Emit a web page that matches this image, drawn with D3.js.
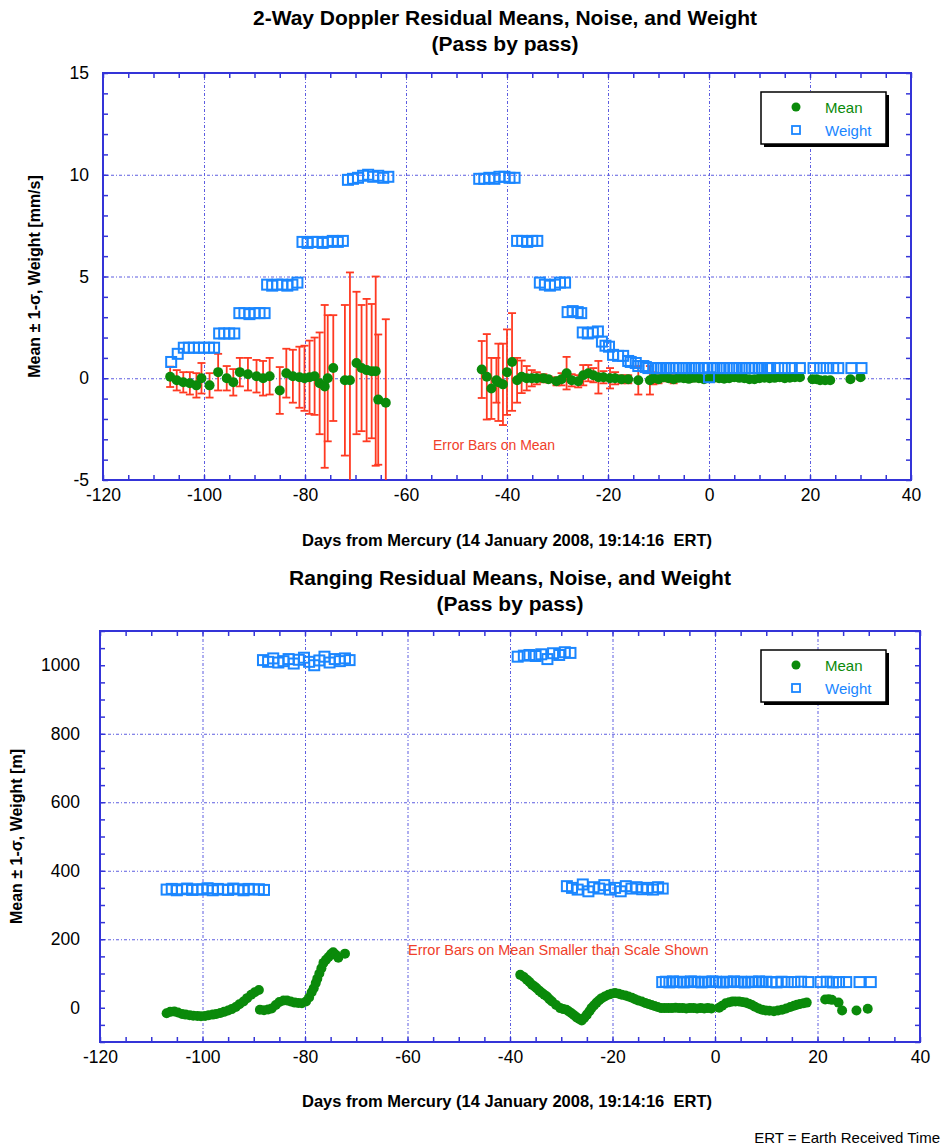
<!DOCTYPE html>
<html>
<head>
<meta charset="utf-8">
<script src="https://cdn.jsdelivr.net/npm/d3@7"></script>
<style>
  body { margin: 0; background: #fff; }
  svg { display: block; }
  text { font-family: "Liberation Sans", Arial, Helvetica, sans-serif; }
</style>
</head>
<body>
<div id="chart"></div>
<script>
// ---- x axis (shared) ----
var xTickVals = [-120, -100, -80, -60, -40, -20, 0, 20, 40];

// ---- 2-way Doppler : weights ----
var dopWeightDays = [-106.5, -105.2, -104, -103, -102, -101, -100, -99, -98,
  -97, -96, -95, -94,
  -93, -92, -91, -90, -89, -88,
  -87.5, -86.5, -85.5, -84.5, -83.5, -82.5, -81.5,
  -80.5, -79.5, -78.5, -77.5, -76.5, -75.5, -74.5, -73.5, -72.5,
  -71.5, -70.5, -69.5, -68.5, -67.5, -66.5, -65.5, -64.5, -63.5,
  -45.5, -44.5, -43.5, -42.5, -41.5, -40.5, -39.5, -38.5,
  -38, -37, -36, -35, -34,
  -33.5, -32.5, -31.5, -30.5, -29.5, -28.5,
  -28, -27, -26, -25.3,
  -25, -24, -23, -22,
  -21.2, -20.5, -19.8, -19, -18, -17, -16, -15.5, -14.5, -14, -13, -12.5,
  -12, -11, -10.2, -9.5, -8.5, -7.8, -7, -6, -5.2, -4.5, -3.5, -2.8, -2, -1, -0.3, 0.7,
  1.5, 2.3, 3, 4, 4.8, 5.5, 6.5, 7.2, 8, 9, 9.8, 10.5, 11.5, 12.1, 13.7, 15, 16.4, 18,
  20.7, 22, 23.3, 24.6, 25.6, 28.2, 30.2, 0];
var dopWeightVals = [0.8, 1.2, 1.5, 1.5, 1.5, 1.5, 1.5, 1.5, 1.5,
  2.2, 2.2, 2.2, 2.2,
  3.2, 3.2, 3.15, 3.2, 3.2, 3.2,
  4.6, 4.55, 4.6, 4.6, 4.55, 4.6, 4.7,
  6.7, 6.65, 6.7, 6.7, 6.65, 6.7, 6.75, 6.7, 6.75,
  9.75, 9.8, 9.85, 9.95, 10.0, 9.9, 9.95, 9.85, 9.9,
  9.8, 9.8, 9.85, 9.8, 9.9, 9.9, 9.85, 9.85,
  6.75, 6.75, 6.7, 6.75, 6.75,
  4.7, 4.6, 4.55, 4.6, 4.7, 4.7,
  3.25, 3.3, 3.25, 3.2,
  2.25, 2.2, 2.25, 2.3,
  1.8, 1.6, 1.55, 1.15, 1.1, 1.1, 0.85, 0.8, 0.75, 0.6, 0.6, 0.55,
  0.5, 0.5, 0.5, 0.5, 0.5, 0.5, 0.5, 0.5, 0.5, 0.5, 0.5, 0.5, 0.5, 0.5, 0.5, 0.5,
  0.5, 0.5, 0.5, 0.5, 0.5, 0.5, 0.5, 0.5, 0.5, 0.5, 0.5, 0.5, 0.5, 0.5, 0.5, 0.5, 0.5, 0.5,
  0.5, 0.5, 0.5, 0.5, 0.5, 0.5, 0.5, 0.05];

// ---- 2-way Doppler : means and 1-sigma ----
var dopMeanDays = [-106.7, -105.4, -104.1, -102.8, -101.5, -100.5, -98.9, -97.2, -95.5, -94.2,
  -92.9, -91.3, -89.6, -88.3, -87.0, -85.0, -83.7, -82.4, -81.1, -80.1,
  -79.1, -78.1, -77.1, -76.1, -75.5, -74.4, -72.1, -71.1, -69.8, -68.8,
  -67.8, -66.8, -66.0, -65.5, -64.0,
  -45.0, -44.0, -43.1, -42.1, -41.7, -40.8, -40.0, -39.0, -38.0, -37.1,
  -36.1, -35.1, -34.1, -32.8, -31.8, -30.2, -29.2, -28.2, -27.2, -25.9,
  -24.9, -23.9, -22.9, -21.9, -20.9, -19.6, -18.6, -17.3, -16.0, -14.0,
  -11.7, -11, -10, -9, -8, -7, -6, -5, -4, -3, -2, -1, 0, 1, 2, 3, 4, 5, 6, 7,
  8, 9, 10, 11, 12, 13, 14, 15, 16, 17, 18, 20.5, 21.3, 22, 23, 24, 28, 30];
var dopMeanVals = [0.07, -0.1, -0.2, -0.25, -0.35, 0.0, -0.35, 0.3, 0.0, -0.2,
  0.3, 0.2, 0.1, 0.0, 0.1, -0.6, 0.25, 0.1, 0.05, 0.0,
  0.05, 0.1, -0.25, -0.4, 0.0, 0.5, -0.1, -0.1, 0.75, 0.5,
  0.4, 0.35, 0.35, -1.05, -1.2,
  0.43, 0.07, -0.5, -0.1, -0.2, -0.3, 0.3, 0.8, -0.1, 0.07,
  0.0, 0.0, 0.0, 0.0, -0.05, -0.15, -0.05, 0.25, -0.1, -0.15,
  0.15, 0.25, 0.15, 0.05, 0.05, 0.0, 0.0, -0.05, -0.05, -0.1,
  -0.1, 0.0, -0.05, 0.05, 0.0, -0.05, 0.02, 0.0, -0.03, 0.02, 0.0, -0.05, 0.0, 0.03, 0.0, -0.02, 0.0, 0.05, 0.02, 0.0,
  -0.05, -0.05, 0.0, 0.03, 0.0, 0.02, 0.05, 0.0, 0.03, 0.05, 0.05, -0.05, -0.05, -0.1, -0.1, -0.1, -0.05, 0.05];
var dopSigma = [0.5, 0.5, 0.5, 0.55, 0.6, 0.75, 0.6, 0.9, 0.6, 0.65,
  0.7, 0.8, 0.8, 0.85, 0.9, 1.15, 1.2, 1.3, 1.5, 1.6,
  1.8, 1.9, 2.5, 4.0, 3.1, 2.6, 3.7, 5.3, 3.5, 3.1,
  3.5, 3.3, 4.65, 3.2, 4.1,
  1.4, 2.1, 1.5, 1.1, 1.9, 2.0, 2.1, 2.4, 1.1, 0.8,
  0.6, 0.4, 0.3, 0.2, 0.15, 0.2, 0.3, 0.8, 0.3, 0.3,
  0.5, 0.4, 0.35, 0.8, 0.3, 0.5, 0.3, 0.2, 0.2, 0.7,
  0.7, 0.3, 0.2, 0.2, 0.15, 0.2, 0.15, 0.1, 0.15, 0.1, 0.15, 0.1, 0.1, 0.1, 0.15, 0.1, 0.1, 0.1, 0.1, 0.1,
  0.1, 0.1, 0.1, 0.1, 0.1, 0.1, 0.1, 0.1, 0.1, 0.1, 0.1, 0.1, 0.1, 0.1, 0.1, 0.1, 0.1, 0.1];

// ---- Ranging : weights ----
var rngWeightDays = [-107, -106, -105, -104, -103, -102, -101, -100, -99, -98,
  -97, -96, -95, -94, -93, -92, -91, -90, -89, -88,
  -88.2, -87.2, -86.2, -85.2, -84.2, -83.2, -82.2, -81.2, -80.2, -79.2,
  -78.2, -77.2, -76.2, -75.2, -74.2, -73.2, -72.2, -71.3,
  -38.5, -37.3, -36.2, -35.0, -33.9, -32.7, -31.6, -30.4, -29.3, -28.2,
  -28.9, -27.9, -26.8, -25.8, -24.7, -23.7, -22.6, -21.6, -20.5, -19.5,
  -18.4, -17.4, -16.3, -15.3, -14.2, -13.2, -12.1, -11.1, -10.2,
  -10.3, -9.6, -8.9, -8.2, -7.5, -6.8, -6.1, -5.4, -4.7, -4.0, -3.3, -2.6, -1.9, -1.2, -0.5,
  0.2, 0.9, 1.6, 2.3, 3.0, 3.7, 4.4, 5.1, 5.8, 6.5, 7.2, 7.9, 8.6, 9.3, 10.0, 11.0, 12.0,
  13.0, 14.2, 15.5, 16.8, 18.2, 20.6, 21.8, 23.0, 24.2, 25.6, 28.2, 30.4];
var rngWeightVals = [345, 347, 343, 346, 348, 344, 346, 345, 349, 343,
  347, 345, 344, 348, 346, 343, 347, 345, 346, 344,
  1015, 1010, 1020, 1008, 1012, 1018, 1005, 1016, 1022, 1010,
  1000, 1014, 1025, 1008, 1018, 1012, 1020, 1015,
  1025, 1028, 1030, 1027, 1032, 1018, 1035, 1030, 1038, 1036,
  355, 350, 345, 360, 340, 352, 348, 358, 345, 350,
  340, 355, 348, 352, 346, 350, 345, 352, 348,
  75, 76, 74, 77, 75, 76, 74, 75, 77, 76, 75, 74, 76, 75, 77,
  76, 75, 74, 76, 75, 77, 75, 76, 74, 75, 76, 75, 77, 75, 76, 75, 74,
  76, 75, 75, 76, 75, 75, 76, 74, 75, 75, 75, 75];

// ---- Ranging : means ----
var rngMeanDays = [-107, -106.3, -105.5, -104.8, -104, -103.3, -102.5, -101.8, -101, -100.3,
  -99.5, -98.8, -98, -97.3, -96.5, -95.8, -95, -94.3, -93.5, -92.8,
  -92, -91.3, -90.5, -89.8, -89,
  -88.8, -88, -87.2, -86.5, -85.7, -85, -84.2, -83.5, -82.8, -82,
  -81.3, -80.6, -79.8, -79.2, -78.7, -78.3, -77.9, -77.6, -77.2, -76.8,
  -76.4, -75.9, -75.4, -74.9, -74.5, -74, -73.5, -72.2,
  -38, -37.3, -36.7, -36.2, -35.7, -35.2, -34.8, -34.3, -33.8, -33.3,
  -32.8, -32.3, -31.8, -31, -30.2, -29.6, -29, -28.5, -28, -27.5,
  -27, -26.5, -26, -25.5, -25, -24.5, -24.1, -23.6, -23.1, -22.6,
  -22.1, -21.5, -20.8, -20.2, -19.5, -18.8, -18.2, -17.5, -16.9, -16.2,
  -15.6, -15, -14.3, -13.6, -13, -12.4, -11.8, -11.2, -10.5,
  -9.8, -9.1, -8.4, -7.7, -7, -6.3, -5.6, -4.9, -4.2, -3.5, -2.8, -2.1, -1.4, -0.7,
  0.8, 1.4, 2.1, 2.8, 3.4, 4.0, 4.7, 5.3, 6.0, 6.6,
  7.2, 7.8, 8.5, 9.2, 9.9, 10.6, 11.5, 12.3, 13.1, 13.9,
  14.7, 15.4, 16.0, 16.6, 17.3, 17.9,
  21.5, 22.2, 22.8, 24.1, 24.8, 27.6, 29.8];
var rngMeanVals = [-16, -12, -11, -14, -18, -20, -22, -23, -24, -25,
  -24, -22, -20, -18, -15, -12, -8, -4, 2, 10,
  18, 28, 38, 45, 52,
  -6, -7, -5, -2, 8, 17, 21, 21, 18, 15,
  14, 13, 18, 30, 45, 57, 72, 85, 100, 115,
  131, 140, 148, 157, 162, 155, 146, 158,
  96, 90, 82, 75, 67, 62, 57, 50, 44, 38,
  33, 25, 18, 8, -1, -4, -6, -11, -16, -22,
  -28, -33, -37, -29, -20, -10, -1, 7, 15, 22,
  28, 33, 38, 41, 43, 41, 38, 36, 33, 29,
  25, 21, 18, 14, 11, 8, 5, 2, -1,
  -1, -1, -1, 0, -1, -1, -2, -1, -1, -2, -1, -2, -1, -2,
  0, 6, 13, 16, 18, 18, 18, 17, 15, 12,
  8, 3, -2, -6, -8, -9, -10, -8, -6, -2,
  2, 6, 9, 11, 13, 15,
  24, 25, 23, 15, -8, -8, -3];

var W = 946, H = 1147;
var FRAME = "#3434d8", GRID = "#5d5de0", GREEN = "#0a8a0a", BLUE = "#1a86ff", RED = "#ff3a22";

var svg = d3.select("#chart").append("svg")
  .attr("width", W)
  .attr("height", H);
svg.append("rect").attr("width", W).attr("height", H).attr("fill", "#fff");

function plain(d) { return String(d); }

function drawPanel(p) {
  var x = d3.scaleLinear().domain([-120, 40]).range([p.left, p.right]);
  var y = d3.scaleLinear().domain(p.yDomain).range([p.bottom, p.top]);
  var h = p.bottom - p.top, w = p.right - p.left;
  var g = svg.append("g");

  // titles
  p.title.forEach(function(t, i) {
    g.append("text").attr("x", p.titleX).attr("y", p.titleY + i * 26)
      .attr("text-anchor", "middle").style("font-size", "21px").style("font-weight", "bold")
      .text(t);
  });

  // grid
  g.append("g").attr("transform", "translate(0," + p.bottom + ")")
    .call(d3.axisBottom(x).tickValues(xTickVals.slice(1, -1)).tickSize(-h).tickFormat(""))
    .call(function(s) {
      s.select(".domain").remove();
      s.selectAll("line").attr("stroke", GRID).attr("stroke-dasharray", "3,2,1,2");
    });
  g.append("g").attr("transform", "translate(" + p.left + ",0)")
    .call(d3.axisLeft(y).tickValues(p.yTicks.slice(1, -1)).tickSize(-w).tickFormat(""))
    .call(function(s) {
      s.select(".domain").remove();
      s.selectAll("line").attr("stroke", GRID).attr("stroke-dasharray", "3,2,1,2");
    });

  // inside ticks
  var xMinor = d3.range(-120, 40.1, 5), yMinor = d3.range(p.yDomain[0], p.yDomain[1] + 0.001, p.yMinor);
  function tickStyle(s) { s.select(".domain").remove(); s.selectAll("line").attr("stroke", FRAME).attr("stroke-width", 1.5); }
  g.append("g").attr("transform", "translate(0," + p.bottom + ")")
    .call(d3.axisBottom(x).tickValues(xMinor).tickSize(-5).tickFormat("")).call(tickStyle);
  g.append("g").attr("transform", "translate(0," + p.top + ")")
    .call(d3.axisTop(x).tickValues(xMinor).tickSize(-5).tickFormat("")).call(tickStyle);
  g.append("g").attr("transform", "translate(" + p.left + ",0)")
    .call(d3.axisLeft(y).tickValues(yMinor).tickSize(-5).tickFormat("")).call(tickStyle);
  g.append("g").attr("transform", "translate(" + p.right + ",0)")
    .call(d3.axisRight(y).tickValues(yMinor).tickSize(-5).tickFormat("")).call(tickStyle);

  // labels
  g.append("g").attr("transform", "translate(0," + p.bottom + ")")
    .call(d3.axisBottom(x).tickValues(xTickVals).tickSize(0).tickPadding(9).tickFormat(plain))
    .call(function(s) {
      s.select(".domain").remove();
      s.selectAll("text").style("font-size", "17.5px").attr("fill", "#000")
        .style("font-family", "'Liberation Sans', Arial, sans-serif");
    });
  g.append("g").attr("transform", "translate(" + p.left + ",0)")
    .call(d3.axisLeft(y).tickValues(p.yTicks).tickSize(0).tickPadding(p.yPad).tickFormat(plain))
    .call(function(s) {
      s.select(".domain").remove();
      s.selectAll("text").style("font-size", "17.5px").attr("fill", "#000")
        .style("font-family", "'Liberation Sans', Arial, sans-serif");
    });

  // frame
  g.append("rect").attr("x", p.left).attr("y", p.top).attr("width", w).attr("height", h)
    .attr("fill", "none").attr("stroke", FRAME).attr("stroke-width", 2);

  // axis titles
  g.append("text").attr("x", p.xTitleX).attr("y", p.xTitleY).attr("text-anchor", "middle")
    .style("font-size", "16.5px").style("font-weight", "bold")
    .text("Days from Mercury (14 January 2008, 19:14:16\u00a0\u00a0ERT)");
  g.append("text")
    .attr("transform", "translate(" + p.yTitleX + "," + ((p.top + p.bottom) / 2) + ") rotate(-90)")
    .attr("text-anchor", "middle").style("font-size", "16px").style("font-weight", "bold")
    .text(p.yTitle);

  // data
  var clipId = "clip" + p.top;
  g.append("clipPath").attr("id", clipId).append("rect")
    .attr("x", p.left).attr("y", p.top).attr("width", w).attr("height", h);
  var plot = g.append("g").attr("clip-path", "url(#" + clipId + ")");

  if (p.sigma) {
    var eb = plot.append("g").attr("stroke", RED).attr("stroke-width", 1.8);
    p.meanDays.forEach(function(d, i) {
      var m = p.meanVals[i], s = p.sigma[i];
      var cx = x(d);
      eb.append("line").attr("x1", cx).attr("x2", cx).attr("y1", y(m - s)).attr("y2", y(m + s));
      eb.append("line").attr("x1", cx - 4).attr("x2", cx + 4).attr("y1", y(m - s)).attr("y2", y(m - s));
      eb.append("line").attr("x1", cx - 4).attr("x2", cx + 4).attr("y1", y(m + s)).attr("y2", y(m + s));
    });
  }

  plot.append("g").selectAll("circle").data(p.meanDays).join("circle")
    .attr("cx", function(d) { return x(d); })
    .attr("cy", function(d, i) { return y(p.meanVals[i]); })
    .attr("r", 5).attr("fill", GREEN);

  plot.append("g").selectAll("rect").data(p.weightDays).join("rect")
    .attr("x", function(d) { return x(d) - 5; })
    .attr("y", function(d, i) { return y(p.weightVals[i]) - 5; })
    .attr("width", 10).attr("height", 10)
    .attr("fill", "none").attr("stroke", BLUE).attr("stroke-width", 2);

  // annotation
  g.append("text").attr("x", p.noteX).attr("y", p.noteY).attr("fill", "#f0402a")
    .style("font-size", p.noteSize).text(p.note);

  // legend
  var lx = 761, ly = p.top + 19;
  g.append("rect").attr("x", lx + 3).attr("y", ly + 3).attr("width", 125).attr("height", 52).attr("fill", "#000");
  g.append("rect").attr("x", lx).attr("y", ly).attr("width", 125).attr("height", 52)
    .attr("fill", "#fff").attr("stroke", "#000").attr("stroke-width", 1.5);
  g.append("circle").attr("cx", lx + 35).attr("cy", ly + 15).attr("r", 4.5).attr("fill", GREEN);
  g.append("rect").attr("x", lx + 31).attr("y", ly + 34).attr("width", 8).attr("height", 8)
    .attr("fill", "none").attr("stroke", BLUE).attr("stroke-width", 1.8);
  g.append("text").attr("x", lx + 64).attr("y", ly + 21).attr("fill", GREEN).style("font-size", "15px").text("Mean");
  g.append("text").attr("x", lx + 64).attr("y", ly + 44).attr("fill", BLUE).style("font-size", "15px").text("Weight");
}

drawPanel({
  left: 103, right: 911, top: 73, bottom: 480,
  yDomain: [-5, 15], yTicks: [-5, 0, 5, 10, 15], yMinor: 1, yPad: 14,
  title: ["2-Way Doppler Residual Means, Noise, and Weight", "(Pass by pass)"],
  titleX: 505, titleY: 25,
  xTitleX: 507, xTitleY: 546, yTitleX: 40,
  yTitle: "Mean \u00b1 1-\u03c3, Weight [mm/s]",
  weightDays: dopWeightDays, weightVals: dopWeightVals,
  meanDays: dopMeanDays, meanVals: dopMeanVals, sigma: dopSigma,
  note: "Error Bars on Mean", noteX: 433, noteY: 450, noteSize: "14px"
});

drawPanel({
  left: 100, right: 920, top: 631, bottom: 1042,
  yDomain: [-100, 1100], yTicks: [0, 200, 400, 600, 800, 1000], yMinor: 50, yPad: 20,
  title: ["Ranging Residual Means, Noise, and Weight", "(Pass by pass)"],
  titleX: 510, titleY: 585,
  xTitleX: 507, xTitleY: 1107, yTitleX: 22,
  yTitle: "Mean \u00b1 1-\u03c3, Weight [m]",
  weightDays: rngWeightDays, weightVals: rngWeightVals,
  meanDays: rngMeanDays, meanVals: rngMeanVals, sigma: null,
  note: "Error Bars on Mean Smaller than Scale Shown", noteX: 408, noteY: 955, noteSize: "14.5px"
});

svg.append("text").attr("x", 940).attr("y", 1143).attr("text-anchor", "end")
  .style("font-size", "15px").text("ERT = Earth Received Time");
</script>
</body>
</html>
